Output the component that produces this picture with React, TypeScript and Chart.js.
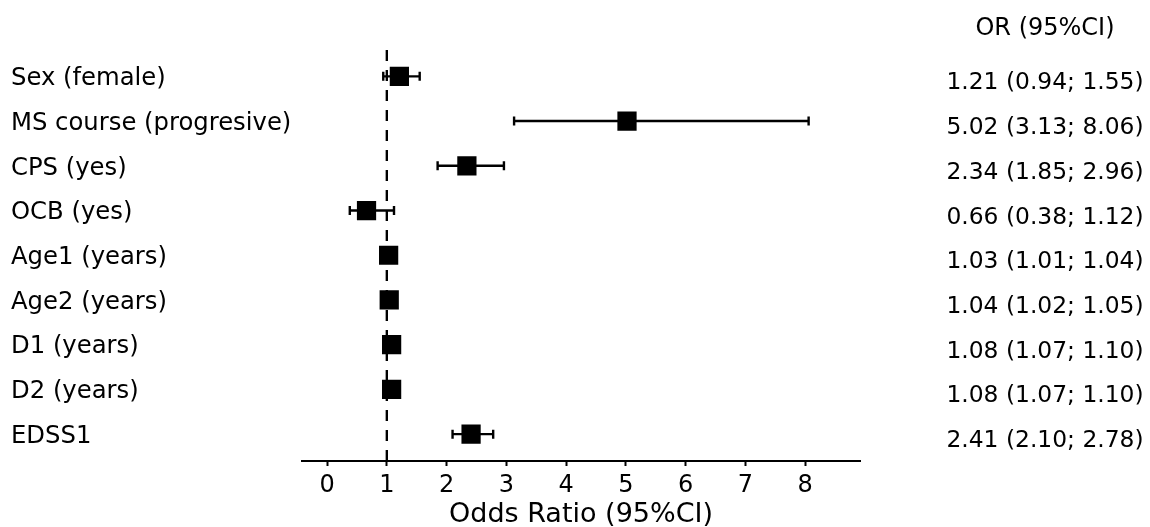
import React, { useEffect, useRef } from "react";
import { Chart, registerables } from "chart.js";

Chart.register(...registerables);

// ---- data ----
const LABELS = [
  "Sex (female)",
  "MS course (progresive)",
  "CPS (yes)",
  "OCB (yes)",
  "Age1 (years)",
  "Age2 (years)",
  "D1 (years)",
  "D2 (years)",
  "EDSS1",
];
const OR = [1.21, 5.02, 2.34, 0.66, 1.03, 1.04, 1.08, 1.08, 2.41];
const CI_LOW = [0.94, 3.13, 1.85, 0.38, 1.01, 1.02, 1.07, 1.07, 2.1];
const CI_HIGH = [1.55, 8.06, 2.96, 1.12, 1.04, 1.05, 1.1, 1.1, 2.78];
const OR_TEXT = [
  "1.21 (0.94; 1.55)",
  "5.02 (3.13; 8.06)",
  "2.34 (1.85; 2.96)",
  "0.66 (0.38; 1.12)",
  "1.03 (1.01; 1.04)",
  "1.04 (1.02; 1.05)",
  "1.08 (1.07; 1.10)",
  "1.08 (1.07; 1.10)",
  "2.41 (2.10; 2.78)",
];
const HEADER = "OR (95%CI)";
const X_TITLE = "Odds Ratio (95%CI)";
const X_TICKS = [0, 1, 2, 3, 4, 5, 6, 7, 8];
const X_MIN = -0.42;
const X_MAX = 8.92;
const Y_MIN = -0.6;
const Y_MAX = 8.6;
const REF_VALUE = 1;
const LABEL_SHIFT = 0.055;

const FONT = '"DejaVu Sans", sans-serif';

const textPlugin = {
  id: "orText",
  afterDraw(chart: any) {
    const { ctx, chartArea } = chart;
    const y = chart.scales.y;
    const cx = chartArea.right + 185;
    ctx.save();
    ctx.fillStyle = "#000";
    ctx.textAlign = "center";
    ctx.textBaseline = "alphabetic";
    ctx.font = `24px ${FONT}`;
    ctx.fillText(HEADER, cx, chartArea.top - 23.5 + 8.75);
    ctx.font = `23.4px ${FONT}`;
    OR_TEXT.forEach((t, i) => {
      ctx.fillText(t, cx, y.getPixelForValue(i) + 4.5 + 8.5);
    });
    ctx.restore();
  },
};

export default function App() {
  const ref = useRef<HTMLCanvasElement | null>(null);

  useEffect(() => {
    if (!ref.current) return;
    const markers: any = {
      type: "scatter",
      data: OR.map((v, i) => ({ x: v, y: i })),
      pointStyle: "rect",
      pointRadius: 13.6,
      pointHoverRadius: 13.6,
      backgroundColor: "#000",
      borderColor: "#000",
      pointBorderWidth: 0,
      showLine: false,
    };
    const ciSets: any[] = OR.map((_, i) => ({
      type: "line",
      data: [
        { x: CI_LOW[i], y: i },
        { x: CI_HIGH[i], y: i },
      ],
      showLine: true,
      borderColor: "#000",
      borderWidth: 2.4,
      pointStyle: "line",
      pointRotation: 90,
      pointRadius: 4.5,
      pointHoverRadius: 4.5,
      pointBorderWidth: 2.4,
      pointBorderColor: "#000",
      fill: false,
    }));
    const refLine: any = {
      type: "line",
      data: [
        { x: REF_VALUE, y: Y_MAX },
        { x: REF_VALUE, y: Y_MIN },
      ],
      showLine: true,
      borderColor: "#000",
      borderWidth: 2.4,
      borderDash: [11, 9],
      pointRadius: 0,
      pointHoverRadius: 0,
      fill: false,
    };

    const chart = new Chart(ref.current, {
      type: "scatter",
      data: { datasets: [markers, ...ciSets, refLine] },
      options: {
        animation: false,
        responsive: true,
        maintainAspectRatio: false,
        events: [],
        layout: { padding: { left: 11, right: 290, top: 49.5, bottom: 0 } },
        plugins: {
          legend: { display: false },
          tooltip: { enabled: false },
        },
        scales: {
          x: {
            type: "linear",
            min: X_MIN,
            max: X_MAX,
            afterBuildTicks: (s: any) => {
              s.ticks = X_TICKS.map((v) => ({ value: v }));
            },
            afterFit: (s: any) => {
              s.height = 66;
            },
            grid: {
              drawOnChartArea: false,
              drawTicks: true,
              tickLength: 5,
              tickWidth: 2,
              tickColor: "#000",
            },
            border: { display: true, color: "#000", width: 2 },
            ticks: {
              color: "#000",
              font: { family: FONT, size: 24 },
              padding: 5.5,
              maxRotation: 0,
              autoSkip: false,
            },
            title: {
              display: true,
              text: X_TITLE,
              color: "#000",
              font: { family: FONT, size: 27, lineHeight: 0.8 },
              padding: { top: 0, bottom: 1.2 },
            },
          },
          y: {
            type: "linear",
            min: Y_MIN,
            max: Y_MAX,
            reverse: true,
            afterBuildTicks: (s: any) => {
              s.ticks = LABELS.map((_, i) => ({ value: i + LABEL_SHIFT }));
            },
            afterFit: (s: any) => {
              s.width = 291;
            },
            grid: { display: false },
            border: { display: false },
            ticks: {
              color: "#000",
              font: { family: FONT, size: 24.3 },
              padding: 0,
              crossAlign: "far",
              autoSkip: false,
              callback: (v: any) => LABELS[Math.round(v as number)] ?? "",
            },
          },
        },
      },
      plugins: [textPlugin],
    } as any);
    return () => chart.destroy();
  }, []);

  return (
    <div style={{ position: "absolute", left: 0, top: 0, width: 1150, height: 527, background: "#fff" }}>
      <canvas ref={ref} />
    </div>
  );
}
